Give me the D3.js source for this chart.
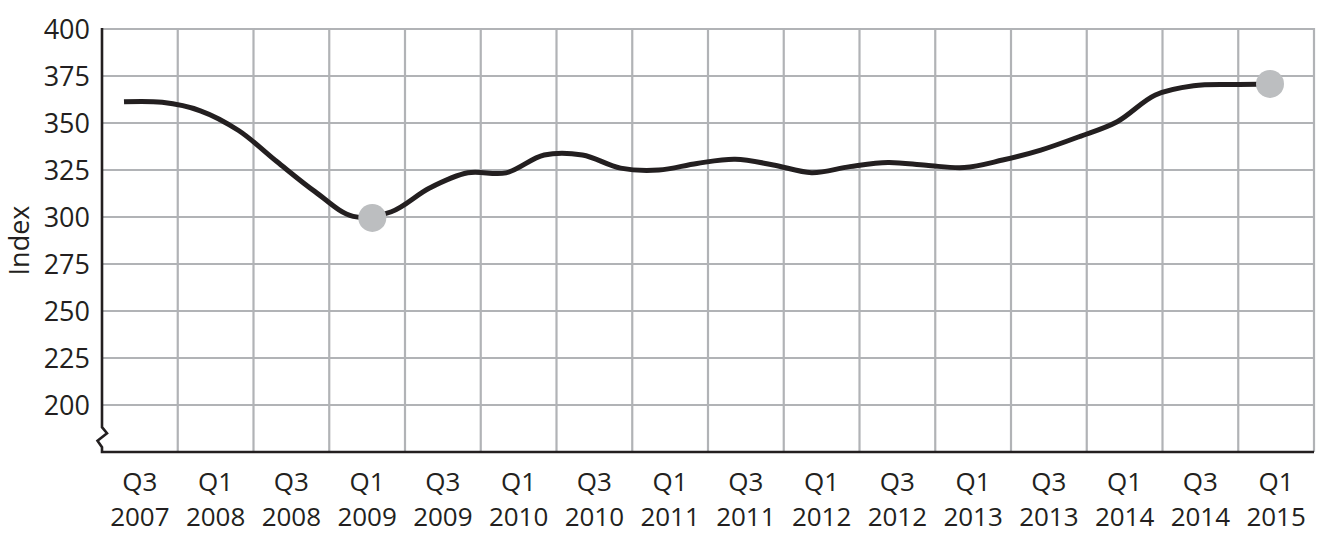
<!DOCTYPE html>
<html>
<head>
<meta charset="utf-8">
<script src="https://cdn.jsdelivr.net/npm/d3@7"></script>
<style>
  body { margin: 0; background: #fff; }
  text { font-family: "Open Sans", "Liberation Sans", sans-serif; fill: #231f20; }
</style>
</head>
<body>
<div id="chart"></div>
<script>
// x axis: one column per half year
var periods = ["Q3", "Q1", "Q3", "Q1", "Q3", "Q1", "Q3", "Q1", "Q3", "Q1", "Q3", "Q1", "Q3", "Q1", "Q3", "Q1"];
var years = ["2007", "2008", "2008", "2009", "2009", "2010", "2010", "2011", "2011", "2012", "2012", "2013", "2013", "2014", "2014", "2015"];
var yTicks = [200, 225, 250, 275, 300, 325, 350, 375, 400];

// quarterly index, Q3 2007 .. Q1 2015 (31 quarters)
var indexValues = [361.3, 361, 356.5, 346, 329.5, 313.5, 300.3, 302.8, 315.4, 323.5,
                   323.5, 333, 333, 326, 325, 328.5, 330.7, 327.7, 323.6, 326.8,
                   329, 327.5, 326.3, 330.3, 335.6, 342.7, 350.7, 364.9, 369.8, 370.5, 370.8];

// highlighted points (quarter index from Q3 2007, value)
var markQuarter = [6.5, 30];
var markValue = [299.5, 370.8];

var width = 1332, height = 534;
var pLeft = 102, pRight = 1314, pTop = 29, pBottom = 452;

var svg = d3.select("#chart")
    .append("svg")
    .attr("width", width)
    .attr("height", height);

var x = d3.scaleBand()
    .domain(d3.range(periods.length))
    .range([pLeft, pRight]);

var y = d3.scaleLinear()
    .domain([175, 400])
    .range([pBottom, pTop]);

var xq = d3.scaleLinear()
    .domain([0, indexValues.length - 1])
    .range([pLeft + 22, pRight - 44]);

var grid = "#b1b3b6";

// horizontal grid
svg.selectAll(".hgrid")
    .data(yTicks)
    .enter().append("line")
    .attr("x1", pLeft)
    .attr("x2", pRight)
    .attr("y1", function(d) { return y(d); })
    .attr("y2", function(d) { return y(d); })
    .style("stroke", grid)
    .style("stroke-width", 2.2);

// vertical grid at column edges
svg.selectAll(".vgrid")
    .data(d3.range(1, periods.length + 1))
    .enter().append("line")
    .attr("x1", function(d) { return pLeft + d * x.step(); })
    .attr("x2", function(d) { return pLeft + d * x.step(); })
    .attr("y1", pTop - 1)
    .attr("y2", pBottom)
    .style("stroke", grid)
    .style("stroke-width", 2.2);

// axes with the break near the bottom
var brk = y(185);
svg.append("path")
    .attr("d", "M" + pLeft + "," + (pTop - 1) + "V" + (brk - 6) +
               "L" + (pLeft + 5) + "," + brk +
               "L" + (pLeft - 4.5) + "," + (brk + 7.5) +
               "L" + pLeft + "," + (brk + 14) +
               "V" + pBottom + "H" + pRight)
    .style("fill", "none")
    .style("stroke", "#231f20")
    .style("stroke-width", 2.6);

// y tick labels
svg.selectAll(".ytick")
    .data(yTicks)
    .enter().append("text")
    .attr("x", pLeft - 12)
    .attr("y", function(d) { return y(d); })
    .attr("dy", "0.36em")
    .attr("text-anchor", "end")
    .style("font-size", "27px")
    .text(function(d) { return d; });

svg.append("text")
    .attr("transform", "translate(29," + (pTop + pBottom) / 2 + ") rotate(-90)")
    .attr("text-anchor", "middle")
    .style("font-size", "27px")
    .text("Index");

// x labels
var xl = svg.selectAll(".xlab")
    .data(periods)
    .enter().append("text")
    .attr("text-anchor", "middle")
    .style("font-size", "26px");

xl.append("tspan")
    .attr("x", function(d, i) { return x(i) + x.bandwidth() / 2; })
    .attr("y", 491)
    .text(function(d) { return d; });

xl.append("tspan")
    .attr("x", function(d, i) { return x(i) + x.bandwidth() / 2; })
    .attr("y", 526)
    .text(function(d, i) { return years[i]; });

// the line
var line = d3.line()
    .x(function(d, i) { return xq(i); })
    .y(function(d) { return y(d); })
    .curve(d3.curveCatmullRom.alpha(0.5));

svg.append("path")
    .datum(indexValues)
    .attr("d", line)
    .style("fill", "none")
    .style("stroke", "#231f20")
    .style("stroke-width", 5);

svg.selectAll(".mark")
    .data(markQuarter)
    .enter().append("circle")
    .attr("cx", function(d) { return xq(d); })
    .attr("cy", function(d, i) { return y(markValue[i]); })
    .attr("r", 14)
    .style("fill", "#bcbec0");
</script>
</body>
</html>
